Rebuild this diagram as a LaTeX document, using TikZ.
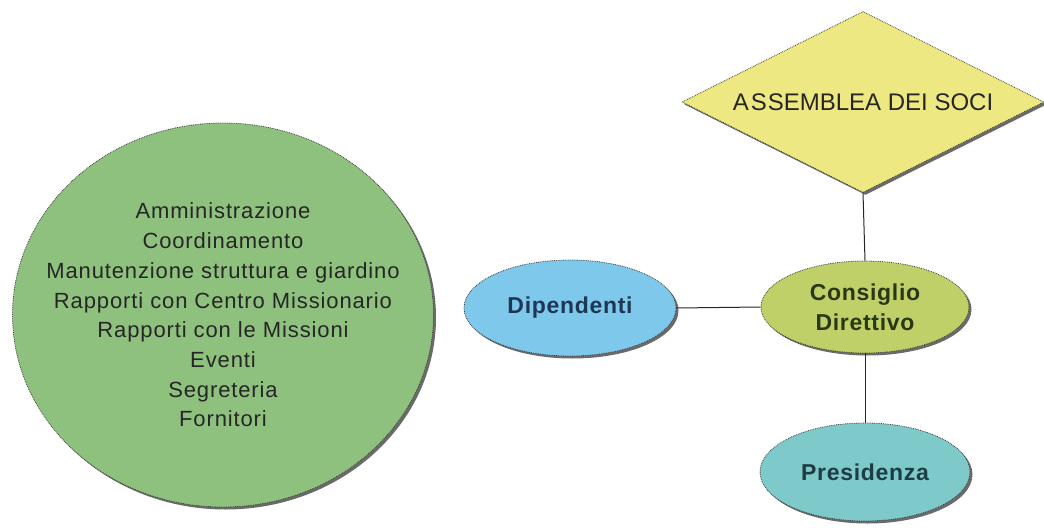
\documentclass[tikz,border=0pt]{standalone}
\usepackage{fontspec}
\setmainfont{Liberation Sans}
\newfontfamily\spacedfont[LetterSpace=4]{Liberation Sans}
\newfontfamily\labelfont[LetterSpace=3]{Liberation Sans}
\usetikzlibrary{shapes.geometric,shadows}
\definecolor{cgreen}{RGB}{143,193,126}
\definecolor{cblue}{RGB}{126,200,236}
\definecolor{cyellow}{RGB}{238,232,130}
\definecolor{colive}{RGB}{192,208,104}
\definecolor{cteal}{RGB}{126,201,201}
\definecolor{cedge}{RGB}{60,60,60}
\definecolor{cshadow}{RGB}{90,90,90}
\tikzset{
  shape3d/.style={draw=cedge, densely dotted, line width=0.8pt, inner sep=0pt,
    drop shadow={shadow xshift=2.5pt, shadow yshift=-2.5pt, fill=cshadow, opacity=0.9}},
  ovalbox/.style={shape3d, ellipse, minimum width=212pt, minimum height=96pt,
    font=\labelfont\bfseries\fontsize{23}{30}\selectfont, align=center},
  link/.style={draw=black!85, line width=1pt, solid},
}
\begin{document}
\begin{tikzpicture}[x=1pt,y=-1pt]
\useasboundingbox (0,0) rectangle (1044,530);
\fill[white] (0,0) rectangle (1044,530);
\node[shape3d, ellipse, fill=cgreen, minimum width=421pt, minimum height=384pt] (aree) at (223,315) {};
\node[align=center, text=black!85, inner sep=0pt, font=\spacedfont\fontsize{22}{29.7}\selectfont] (areetext) at (aree.center)
  {Amministrazione\\Coordinamento\\Manutenzione struttura e giardino\\Rapporti con Centro Missionario\\Rapporti con le Missioni\\Eventi\\Segreteria\\Fornitori};
\node[shape3d, diamond, shape aspect=2, fill=cyellow, minimum width=362pt, minimum height=181pt,
  font=\fontsize{24}{28}\selectfont, text=black!85] (ass) at (863,102)
  {A\kern2pt S\kern1pt SEMBLEA DEI SOCI};
\node[ovalbox, fill=cblue, text={rgb,255:red,30;green,55;blue,85}] (dip) at (570,308) {Dipendenti};
\node[ovalbox, fill=colive, text={rgb,255:red,40;green,55;blue,20}, minimum width=208pt, minimum height=92pt] (cons) at (865,307) {Consiglio\\Direttivo};
\node[ovalbox, fill=cteal, text={rgb,255:red,30;green,60;blue,70}, minimum width=210pt, minimum height=98pt] (pres) at (865,472) {Presidenza};
\draw[link] (ass.south) -- (cons.north);
\draw[link] (dip.east) -- (cons.west);
\draw[link] (cons.south) -- (pres.north);
\end{tikzpicture}
\end{document}
